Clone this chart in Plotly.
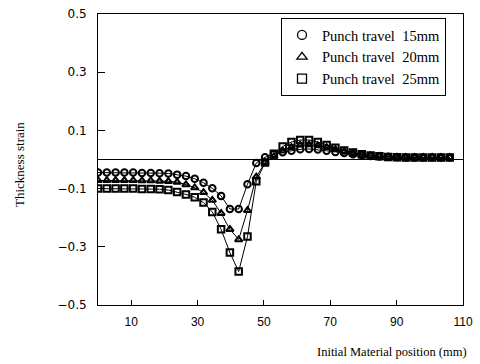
import plotly.graph_objects as go

# Initial material position (mm), 41 nodes
position = [round(i * 2.65, 2) for i in range(41)]

strain_15 = [-0.045, -0.045, -0.045, -0.045, -0.045, -0.046, -0.046, -0.047,
             -0.048, -0.052, -0.057, -0.066, -0.080, -0.099, -0.125, -0.170,
             -0.170, -0.085, -0.012, 0.008, 0.018, 0.025, 0.030, 0.035,
             0.036, 0.034, 0.030, 0.026, 0.022, 0.018, 0.015, 0.012,
             0.010, 0.009, 0.008, 0.007, 0.007, 0.007, 0.007, 0.007, 0.007]

strain_20 = [-0.072, -0.072, -0.072, -0.072, -0.072, -0.073, -0.073, -0.074,
             -0.075, -0.078, -0.086, -0.097, -0.113, -0.140, -0.185, -0.240,
             -0.275, -0.175, -0.060, -0.010, 0.010, 0.030, 0.042, 0.050,
             0.051, 0.048, 0.042, 0.035, 0.028, 0.022, 0.017, 0.013,
             0.011, 0.009, 0.008, 0.007, 0.007, 0.007, 0.007, 0.007, 0.007]

strain_25 = [-0.100, -0.100, -0.100, -0.100, -0.100, -0.101, -0.101, -0.102,
             -0.105, -0.112, -0.120, -0.130, -0.148, -0.180, -0.240, -0.320,
             -0.385, -0.265, -0.075, -0.010, 0.020, 0.045, 0.060, 0.067,
             0.067, 0.060, 0.050, 0.040, 0.031, 0.024, 0.018, 0.014,
             0.011, 0.009, 0.008, 0.007, 0.007, 0.007, 0.007, 0.007, 0.007]

series_names = ["Punch travel  15mm", "Punch travel  20mm", "Punch travel  25mm"]
series_values = [strain_15, strain_20, strain_25]
symbols = ["circle-open", "triangle-up-open", "square-open"]

x_ticks = [10, 30, 50, 70, 90, 110]
y_ticks = [-0.5, -0.3, -0.1, 0.1, 0.3, 0.5]

# plot-area geometry (pixels)
L, R, T, B = 98, 463, 14, 305
W, H = R - L, B - T

fig = go.Figure()
for name, vals, sym in zip(series_names, series_values, symbols):
    fig.add_trace(go.Scatter(
        x=position, y=vals, name=name, mode="lines+markers", showlegend=False,
        line=dict(color="black", width=1),
        marker=dict(symbol=sym, size=6.5, color="black", line=dict(color="black", width=2)),
    ))
# legend entries (symbol only, as in the reference)
for name, sym in zip(series_names, symbols):
    fig.add_trace(go.Scatter(
        x=[None], y=[None], name=name, mode="markers",
        marker=dict(symbol=sym, size=9, color="black", line=dict(color="black", width=1.3)),
    ))

fig.update_layout(
    width=480, height=364,
    margin=dict(l=L, r=480 - R, t=T, b=364 - B),
    paper_bgcolor="white", plot_bgcolor="white",
    showlegend=True,
    legend=dict(
        x=(281 - L) / W, y=(B - 18) / H, xanchor="left", yanchor="top",
        bordercolor="black", borderwidth=1, bgcolor="white",
        font=dict(family="Liberation Serif", size=14.5, color="black"),
        itemwidth=30, tracegroupgap=0,
        entrywidth=140, entrywidthmode="pixels",
    ),
    annotations=[
        dict(text="Initial Material position (mm)", x=(392 - L) / W, y=(B - 352) / H,
             xref="paper", yref="paper", xanchor="center", yanchor="middle", showarrow=False,
             font=dict(family="Liberation Serif", size=12.5, color="black")),
        dict(text="Thickness strain", x=(20 - L) / W, y=(B - 165) / H, textangle=-90,
             xref="paper", yref="paper", xanchor="center", yanchor="middle", showarrow=False,
             font=dict(family="Liberation Serif", size=13, color="black")),
    ],
)

fig.update_xaxes(
    range=[0, 110], tickvals=x_ticks, ticktext=[str(t) for t in x_ticks],
    ticks="inside", ticklen=5, tickcolor="black", tickwidth=1, ticklabelstandoff=6,
    showline=True, linecolor="black", linewidth=1, mirror=True, automargin=False,
    showgrid=False, zeroline=False,
    tickfont=dict(family="Liberation Sans", size=12, color="black"),
)
fig.update_yaxes(
    range=[-0.5, 0.5], tickvals=y_ticks, tickformat=".1f",
    ticks="inside", ticklen=7, tickcolor="black", tickwidth=1, ticklabelstandoff=8,
    showline=True, linecolor="black", linewidth=1, mirror=True, automargin=False,
    showgrid=False, zeroline=True, zerolinecolor="black", zerolinewidth=1,
    tickfont=dict(family="DejaVu Sans", size=12, color="black"),
)

fig.write_html("out.html", config={"displayModeBar": False},
               post_script="document.body.style.margin='0';")
